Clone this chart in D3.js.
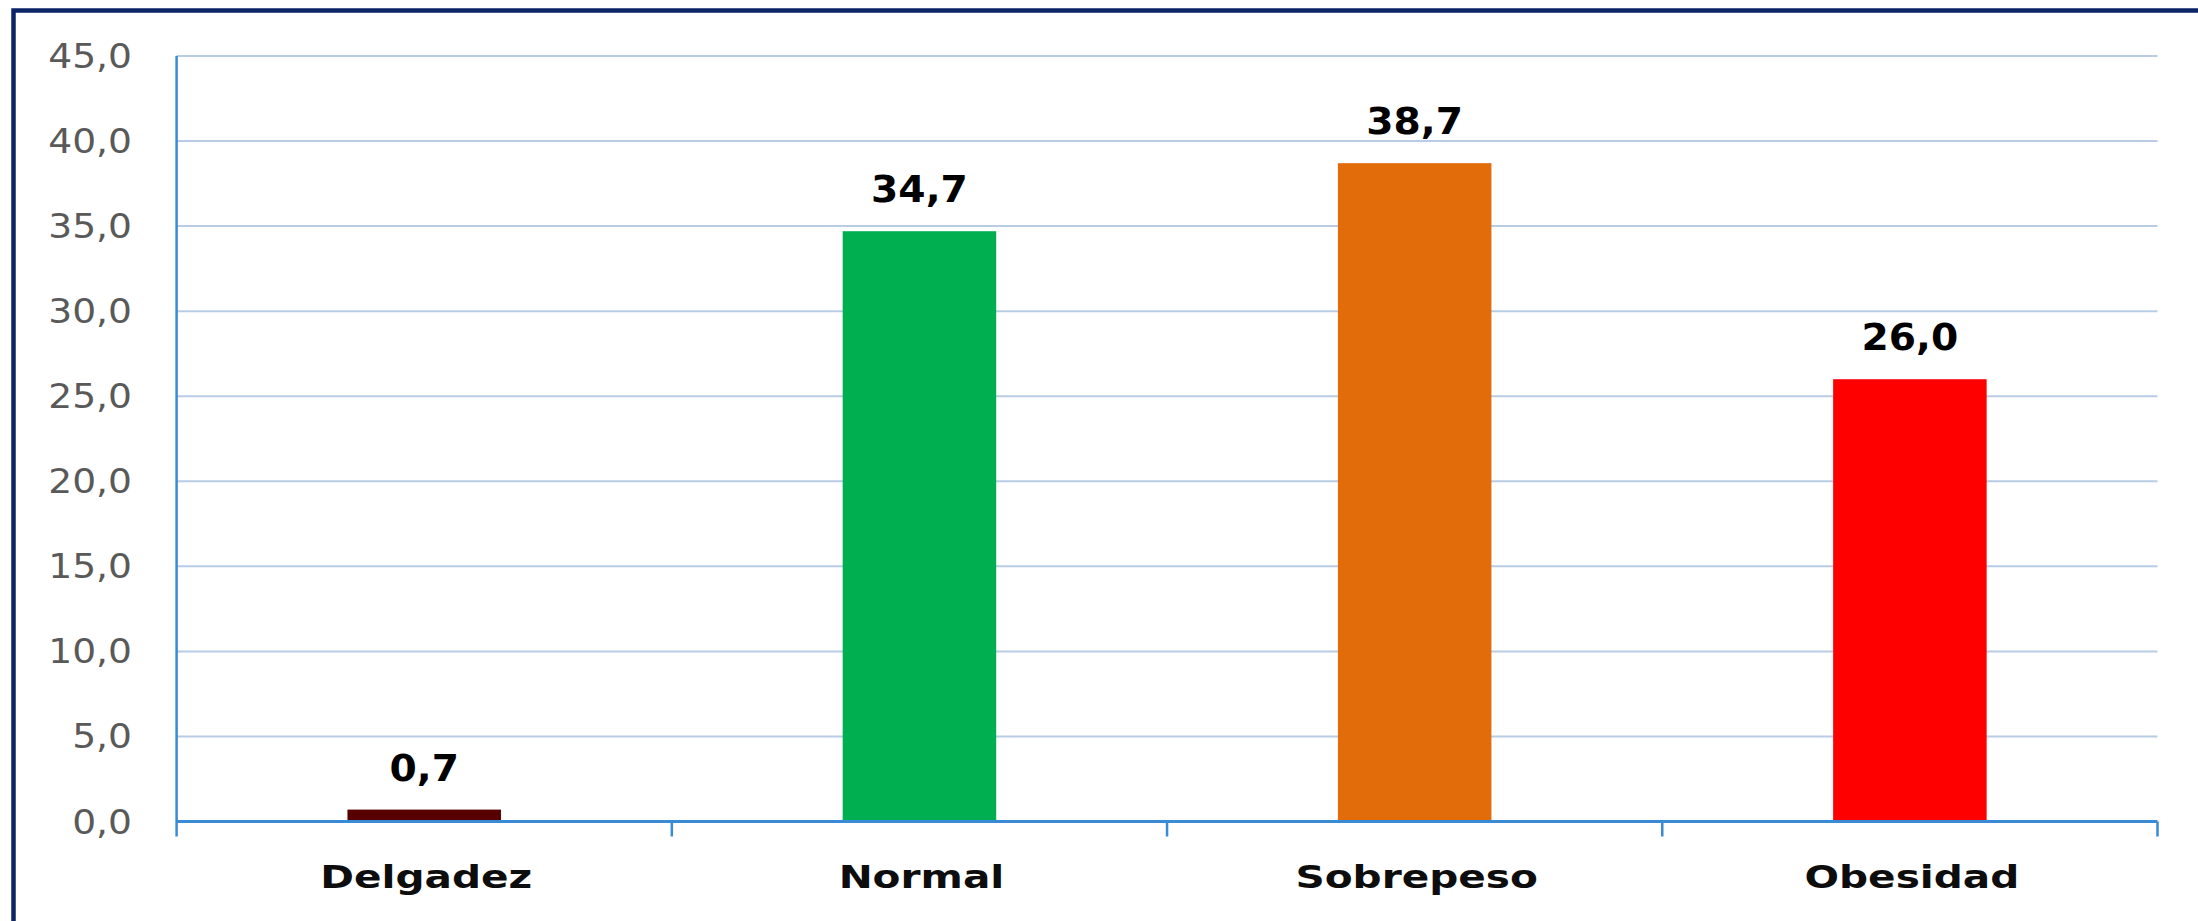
<!DOCTYPE html>
<html>
<head>
<meta charset="utf-8">
<script src="https://cdn.jsdelivr.net/npm/d3@7"></script>
<style>
  html, body { margin: 0; padding: 0; background: #ffffff; overflow: hidden; }
  svg { display: block; }
</style>
</head>
<body>
<svg id="chart" width="2198" height="921"></svg>
<script>
// ---- data ----
const categories = ["Delgadez", "Normal", "Sobrepeso", "Obesidad"];
const values = [0.7, 34.7, 38.7, 26.0];
const barColors = ["#570000", "#00b050", "#e36c0a", "#ff0000"];
const yTicks = [0, 5, 10, 15, 20, 25, 30, 35, 40, 45];

// ---- layout ----
const W = 2198, H = 921;
const plotLeft = 176.6, plotRight = 2157.5, plotTop = 56, plotBottom = 821.5;

const svg = d3.select("#chart");
const locale = d3.formatLocale({decimal: ",", thousands: ".", grouping: [3], currency: ["", ""]});
const fmt = locale.format(".1f");

const y = d3.scaleLinear().domain([0, 45]).range([plotBottom, plotTop]);
const x = d3.scaleBand().domain(categories).range([plotLeft, plotRight]).paddingInner(0.69).paddingOuter(0.345);
const xb = d3.scaleBand().domain(categories).range([plotLeft, plotRight]).padding(0);

// border (top + left visible)
svg.append("rect")
  .attr("x", 13.5).attr("y", 10.5)
  .attr("width", W + 20).attr("height", H + 20)
  .attr("fill", "none").attr("stroke", "#0b2566").attr("stroke-width", 4.5);

// gridlines
svg.append("g").selectAll("line").data(yTicks.filter(d => d > 0)).join("line")
  .attr("x1", plotLeft).attr("x2", plotRight)
  .attr("y1", d => y(d)).attr("y2", d => y(d))
  .attr("stroke", "#b8cce6").attr("stroke-width", 2);

// y tick labels
svg.append("g").selectAll("text").data(yTicks).join("text")
  .attr("transform", d => `translate(132,${y(d) + 12}) scale(1.14,1)`)
  .attr("text-anchor", "end")
  .attr("font-family", "DejaVu Sans")
  .attr("font-size", 33)
  .attr("fill", "#595959")
  .text(d => fmt(d));

// bars
svg.append("g").selectAll("rect").data(categories).join("rect")
  .attr("x", d => x(d))
  .attr("width", x.bandwidth())
  .attr("y", (d, i) => y(values[i]))
  .attr("height", (d, i) => y(0) - y(values[i]))
  .attr("fill", (d, i) => barColors[i]);

// y axis line
svg.append("line")
  .attr("x1", plotLeft).attr("x2", plotLeft)
  .attr("y1", plotTop).attr("y2", plotBottom + 15)
  .attr("stroke", "#3a8ad6").attr("stroke-width", 2.5);

// x axis line
svg.append("line")
  .attr("x1", plotLeft).attr("x2", plotRight)
  .attr("y1", plotBottom).attr("y2", plotBottom)
  .attr("stroke", "#3a8ad6").attr("stroke-width", 3);

// x ticks at band boundaries
const bounds = categories.map(c => xb(c)).concat([plotRight]);
svg.append("g").selectAll("line").data(bounds.slice(1)).join("line")
  .attr("x1", d => d).attr("x2", d => d)
  .attr("y1", plotBottom).attr("y2", plotBottom + 15)
  .attr("stroke", "#3a8ad6").attr("stroke-width", 2.5);

// value labels
svg.append("g").selectAll("text").data(categories).join("text")
  .attr("transform", (d, i) => `translate(${x(d) + x.bandwidth() / 2},${y(values[i]) - 29}) scale(1.06,1)`)
  .attr("text-anchor", "middle")
  .attr("font-family", "DejaVu Sans")
  .attr("font-weight", "bold")
  .attr("font-size", 37)
  .attr("fill", "#000000")
  .text((d, i) => fmt(values[i]));

// category labels
svg.append("g").selectAll("text").data(categories).join("text")
  .attr("transform", d => `translate(${x(d) + x.bandwidth() / 2 + 2},888) scale(1.27,1)`)
  .attr("text-anchor", "middle")
  .attr("font-family", "DejaVu Sans")
  .attr("font-weight", "bold")
  .attr("font-size", 32)
  .attr("fill", "#0d0d0d")
  .text(d => d);
</script>
</body>
</html>
